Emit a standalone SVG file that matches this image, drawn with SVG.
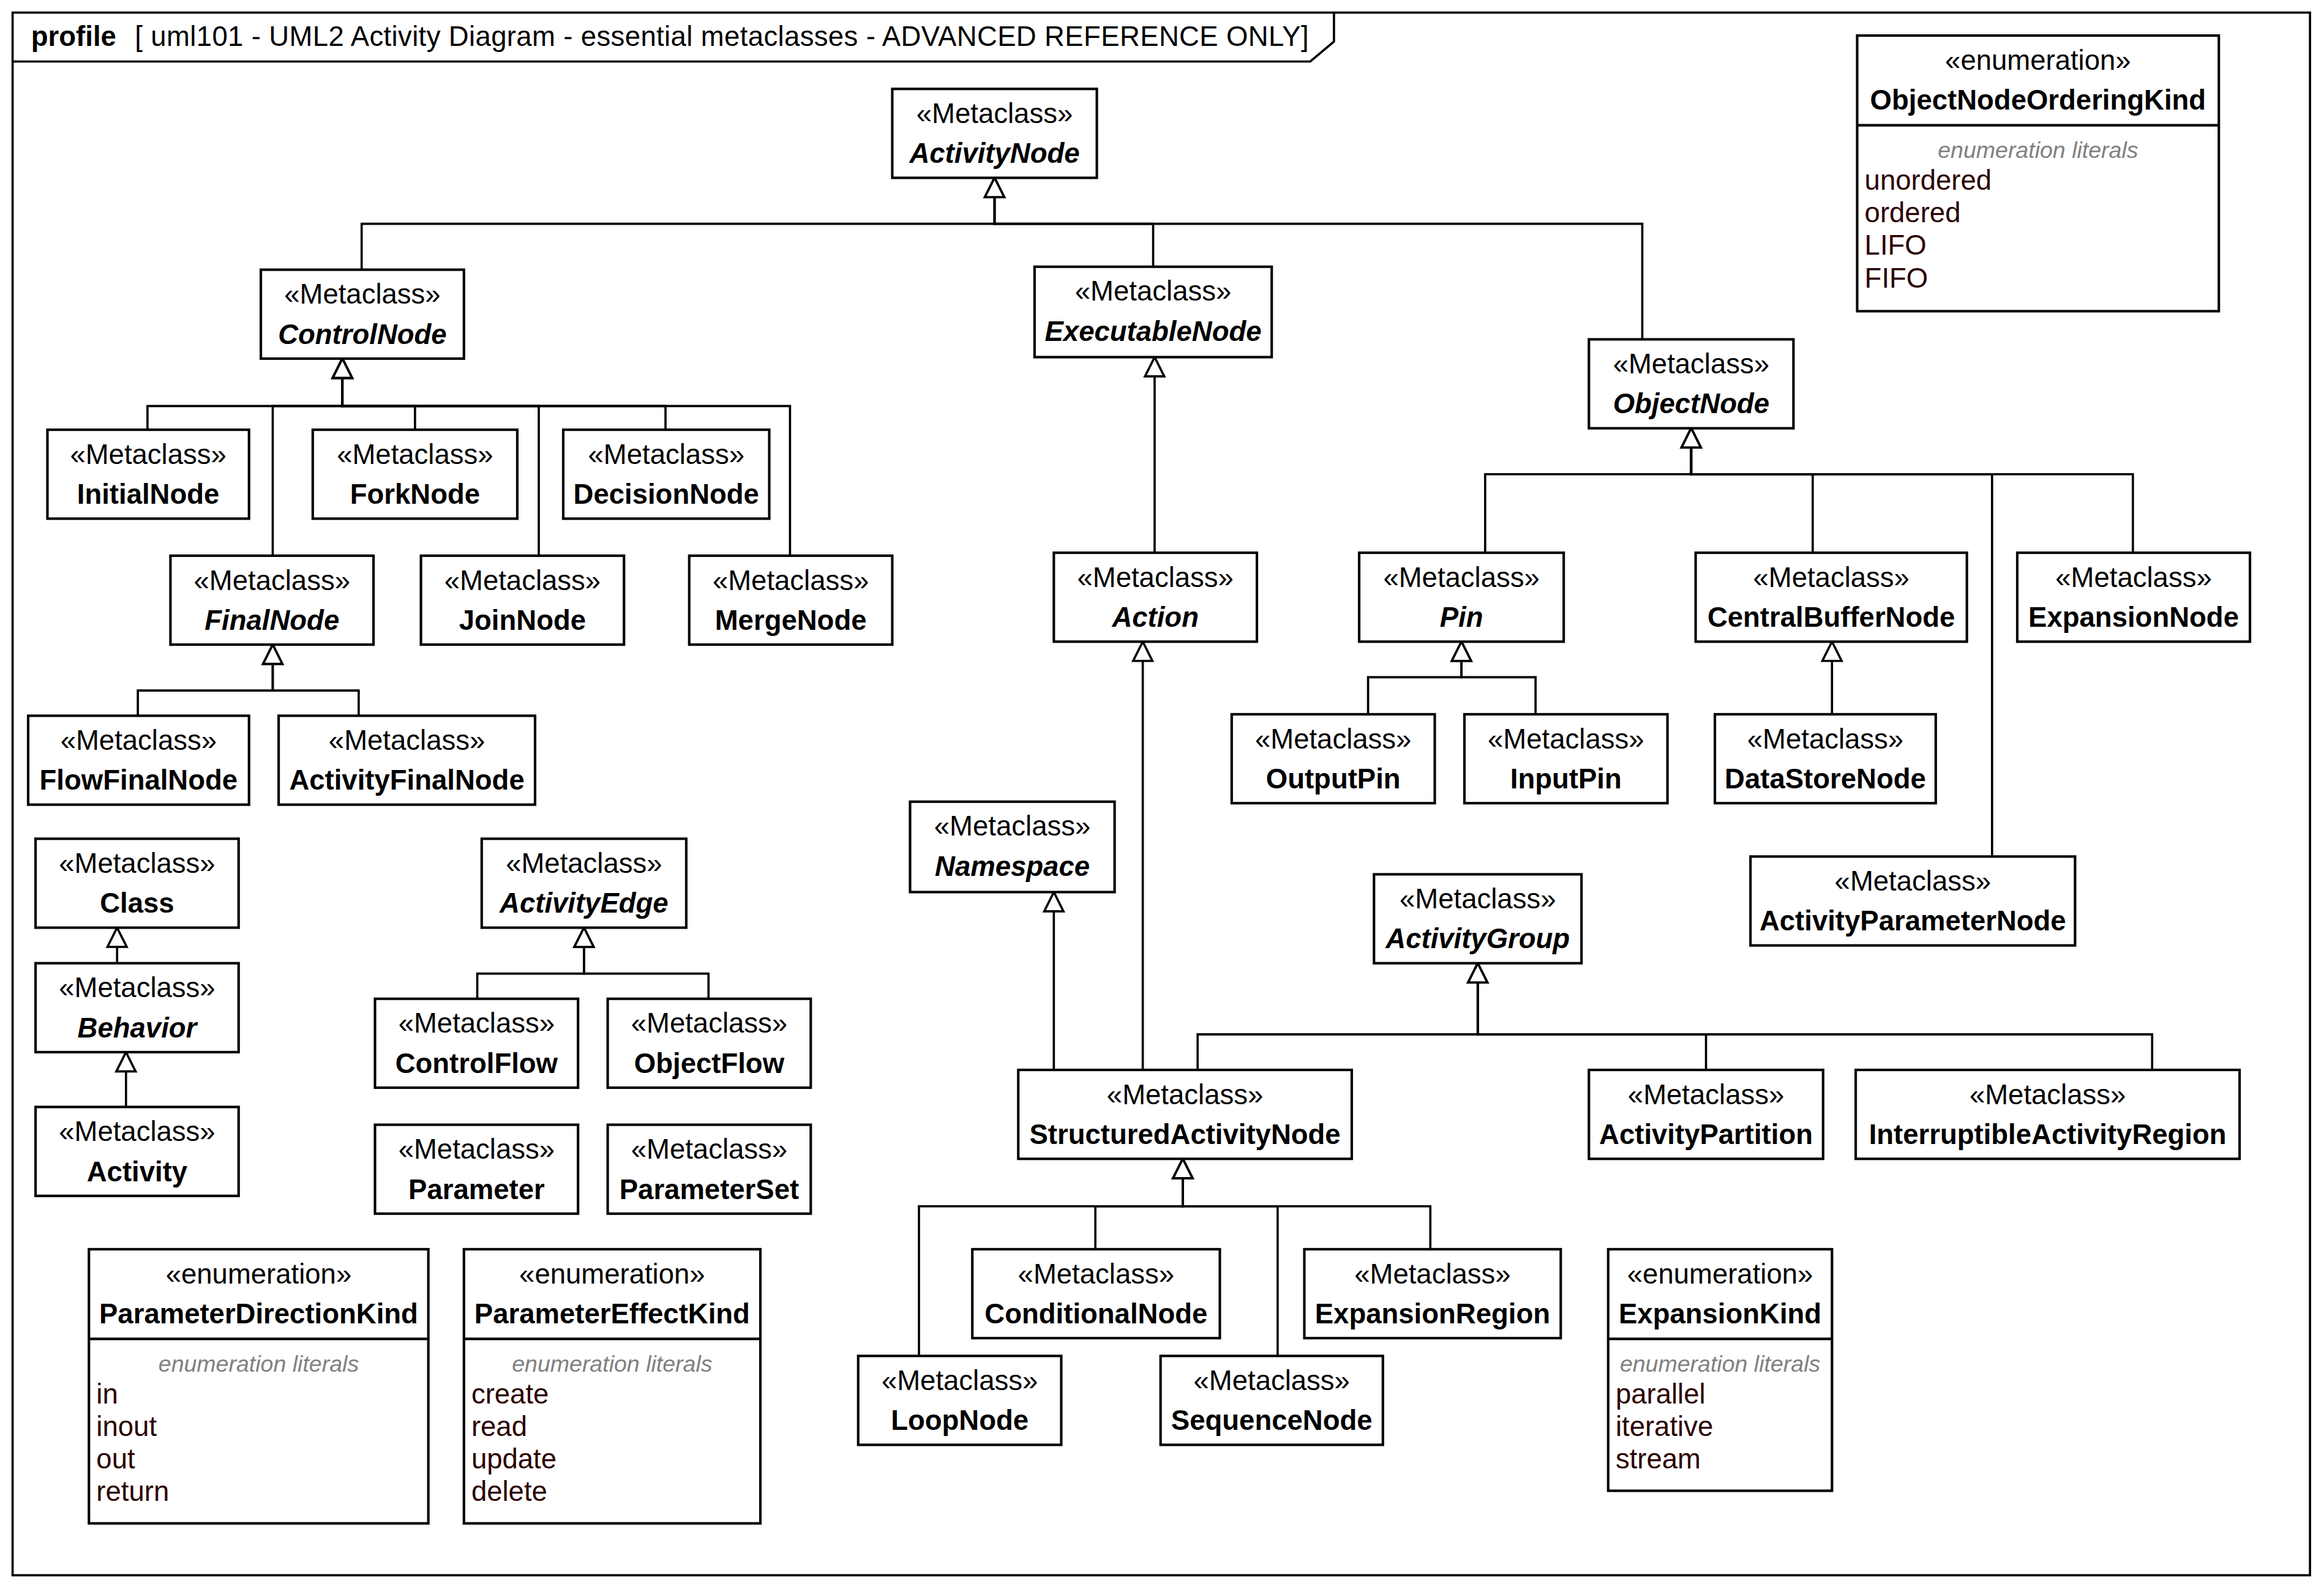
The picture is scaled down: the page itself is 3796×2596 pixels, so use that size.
<svg xmlns="http://www.w3.org/2000/svg" width="3796" height="2596" viewBox="0 0 3796 2596">
<style>
text{font-family:"Liberation Sans",Arial,Helvetica,sans-serif;font-size:18.8px;fill:#000}
.box{fill:#fff;stroke:#000;stroke-width:1.7}
.frame{fill:#fff;stroke:#000;stroke-width:1.5}
.st{text-anchor:middle}
.nm{text-anchor:middle;font-weight:bold}
.ab{font-style:italic}
.lbl{text-anchor:middle;font-style:italic;font-size:15.5px;fill:#808080}
.lit{fill:#2b0000}
.edge{fill:none;stroke:#000;stroke-width:1.5;marker-end:url(#gen)}
</style>
<defs>
<marker id="gen" viewBox="-14 -8 15 16" refX="0" refY="0" markerWidth="15" markerHeight="16" orient="auto" markerUnits="userSpaceOnUse">
<path d="M0,0 L-13,-6.5 L-13,6.5 Z" fill="#fff" stroke="#000" stroke-width="1.5" stroke-linejoin="miter"/>
</marker>
</defs>
<rect width="3796" height="2596" fill="#fff"/>
<g transform="scale(2.421)">
<g id="frame">
<rect class="frame" x="8.5" y="8.5" width="1550" height="1054.5"/>
<path d="M8.5,41.5 H884 L900,28 V8.5" fill="none" stroke="#000" stroke-width="1.5"/>
<text x="21" y="31" font-weight="bold">profile</text>
<text x="91" y="31" textLength="792" lengthAdjust="spacing">[ uml101 - UML2 Activity Diagram - essential metaclasses - ADVANCED REFERENCE ONLY]</text>
</g>
<g id="connectors">
<path class="edge" d="M244,182 V151 H671 V120"/>
<path class="edge" d="M778,180 V151 H671 V120"/>
<path class="edge" d="M1108,229 V151 H671 V120"/>
<path class="edge" d="M99.5,290 V274 H231 V242"/>
<path class="edge" d="M184,375 V274 H231 V242"/>
<path class="edge" d="M280,290 V274 H231 V242"/>
<path class="edge" d="M363.5,375 V274 H231 V242"/>
<path class="edge" d="M449,290 V274 H231 V242"/>
<path class="edge" d="M533,375 V274 H231 V242"/>
<path class="edge" d="M93,483 V466 H184 V435"/>
<path class="edge" d="M242,483 V466 H184 V435"/>
<path class="edge" d="M779,373 V241"/>
<path class="edge" d="M771,722 V433"/>
<path class="edge" d="M711,722 V602"/>
<path class="edge" d="M1002,373 V320 H1141 V289"/>
<path class="edge" d="M1223,373 V320 H1141 V289"/>
<path class="edge" d="M1344,578 V320 H1141 V289"/>
<path class="edge" d="M1439,373 V320 H1141 V289"/>
<path class="edge" d="M923,482 V457 H986 V433"/>
<path class="edge" d="M1036,482 V457 H986 V433"/>
<path class="edge" d="M1236,482 V433"/>
<path class="edge" d="M79,650 V626"/>
<path class="edge" d="M85,747 V710"/>
<path class="edge" d="M322,674 V657 H394 V626"/>
<path class="edge" d="M478,674 V657 H394 V626"/>
<path class="edge" d="M808,722 V698 H997 V650"/>
<path class="edge" d="M1151,722 V698 H997 V650"/>
<path class="edge" d="M1452,722 V698 H997 V650"/>
<path class="edge" d="M620,915 V814 H798 V782"/>
<path class="edge" d="M739,843 V814 H798 V782"/>
<path class="edge" d="M862,915 V814 H798 V782"/>
<path class="edge" d="M965,843 V814 H798 V782"/>
</g>
<g id="ActivityNode"><rect class="box" x="602" y="60" width="138" height="60"/><text class="st" x="671" y="83">«Metaclass»</text><text class="nm ab" x="671" y="110">ActivityNode</text></g>
<g id="ControlNode"><rect class="box" x="176" y="182" width="137" height="60"/><text class="st" x="244.5" y="205">«Metaclass»</text><text class="nm ab" x="244.5" y="232">ControlNode</text></g>
<g id="ExecutableNode"><rect class="box" x="698" y="180" width="160" height="61"/><text class="st" x="778" y="203">«Metaclass»</text><text class="nm ab" x="778" y="230">ExecutableNode</text></g>
<g id="ObjectNode"><rect class="box" x="1072" y="229" width="138" height="60"/><text class="st" x="1141" y="252">«Metaclass»</text><text class="nm ab" x="1141" y="279">ObjectNode</text></g>
<g id="InitialNode"><rect class="box" x="32" y="290" width="136" height="60"/><text class="st" x="100" y="313">«Metaclass»</text><text class="nm" x="100" y="340">InitialNode</text></g>
<g id="ForkNode"><rect class="box" x="211" y="290" width="138" height="60"/><text class="st" x="280" y="313">«Metaclass»</text><text class="nm" x="280" y="340">ForkNode</text></g>
<g id="DecisionNode"><rect class="box" x="380" y="290" width="139" height="60"/><text class="st" x="449.5" y="313">«Metaclass»</text><text class="nm" x="449.5" y="340">DecisionNode</text></g>
<g id="FinalNode"><rect class="box" x="115" y="375" width="137" height="60"/><text class="st" x="183.5" y="398">«Metaclass»</text><text class="nm ab" x="183.5" y="425">FinalNode</text></g>
<g id="JoinNode"><rect class="box" x="284" y="375" width="137" height="60"/><text class="st" x="352.5" y="398">«Metaclass»</text><text class="nm" x="352.5" y="425">JoinNode</text></g>
<g id="MergeNode"><rect class="box" x="465" y="375" width="137" height="60"/><text class="st" x="533.5" y="398">«Metaclass»</text><text class="nm" x="533.5" y="425">MergeNode</text></g>
<g id="Action"><rect class="box" x="711" y="373" width="137" height="60"/><text class="st" x="779.5" y="396">«Metaclass»</text><text class="nm ab" x="779.5" y="423">Action</text></g>
<g id="Pin"><rect class="box" x="917" y="373" width="138" height="60"/><text class="st" x="986" y="396">«Metaclass»</text><text class="nm ab" x="986" y="423">Pin</text></g>
<g id="CentralBufferNode"><rect class="box" x="1144" y="373" width="183" height="60"/><text class="st" x="1235.5" y="396">«Metaclass»</text><text class="nm" x="1235.5" y="423">CentralBufferNode</text></g>
<g id="ExpansionNode"><rect class="box" x="1361" y="373" width="157" height="60"/><text class="st" x="1439.5" y="396">«Metaclass»</text><text class="nm" x="1439.5" y="423">ExpansionNode</text></g>
<g id="FlowFinalNode"><rect class="box" x="19" y="483" width="149" height="60"/><text class="st" x="93.5" y="506">«Metaclass»</text><text class="nm" x="93.5" y="533">FlowFinalNode</text></g>
<g id="ActivityFinalNode"><rect class="box" x="188" y="483" width="173" height="60"/><text class="st" x="274.5" y="506">«Metaclass»</text><text class="nm" x="274.5" y="533">ActivityFinalNode</text></g>
<g id="OutputPin"><rect class="box" x="831" y="482" width="137" height="60"/><text class="st" x="899.5" y="505">«Metaclass»</text><text class="nm" x="899.5" y="532">OutputPin</text></g>
<g id="InputPin"><rect class="box" x="988" y="482" width="137" height="60"/><text class="st" x="1056.5" y="505">«Metaclass»</text><text class="nm" x="1056.5" y="532">InputPin</text></g>
<g id="DataStoreNode"><rect class="box" x="1157" y="482" width="149" height="60"/><text class="st" x="1231.5" y="505">«Metaclass»</text><text class="nm" x="1231.5" y="532">DataStoreNode</text></g>
<g id="Class"><rect class="box" x="24" y="566" width="137" height="60"/><text class="st" x="92.5" y="589">«Metaclass»</text><text class="nm" x="92.5" y="616">Class</text></g>
<g id="Behavior"><rect class="box" x="24" y="650" width="137" height="60"/><text class="st" x="92.5" y="673">«Metaclass»</text><text class="nm ab" x="92.5" y="700">Behavior</text></g>
<g id="Activity"><rect class="box" x="24" y="747" width="137" height="60"/><text class="st" x="92.5" y="770">«Metaclass»</text><text class="nm" x="92.5" y="797">Activity</text></g>
<g id="ActivityEdge"><rect class="box" x="325" y="566" width="138" height="60"/><text class="st" x="394" y="589">«Metaclass»</text><text class="nm ab" x="394" y="616">ActivityEdge</text></g>
<g id="ControlFlow"><rect class="box" x="253" y="674" width="137" height="60"/><text class="st" x="321.5" y="697">«Metaclass»</text><text class="nm" x="321.5" y="724">ControlFlow</text></g>
<g id="ObjectFlow"><rect class="box" x="410" y="674" width="137" height="60"/><text class="st" x="478.5" y="697">«Metaclass»</text><text class="nm" x="478.5" y="724">ObjectFlow</text></g>
<g id="Parameter"><rect class="box" x="253" y="759" width="137" height="60"/><text class="st" x="321.5" y="782">«Metaclass»</text><text class="nm" x="321.5" y="809">Parameter</text></g>
<g id="ParameterSet"><rect class="box" x="410" y="759" width="137" height="60"/><text class="st" x="478.5" y="782">«Metaclass»</text><text class="nm" x="478.5" y="809">ParameterSet</text></g>
<g id="Namespace"><rect class="box" x="614" y="541" width="138" height="61"/><text class="st" x="683" y="564">«Metaclass»</text><text class="nm ab" x="683" y="591">Namespace</text></g>
<g id="ActivityGroup"><rect class="box" x="927" y="590" width="140" height="60"/><text class="st" x="997" y="613">«Metaclass»</text><text class="nm ab" x="997" y="640">ActivityGroup</text></g>
<g id="ActivityParameterNode"><rect class="box" x="1181" y="578" width="219" height="60"/><text class="st" x="1290.5" y="601">«Metaclass»</text><text class="nm" x="1290.5" y="628">ActivityParameterNode</text></g>
<g id="StructuredActivityNode"><rect class="box" x="687" y="722" width="225" height="60"/><text class="st" x="799.5" y="745">«Metaclass»</text><text class="nm" x="799.5" y="772">StructuredActivityNode</text></g>
<g id="ActivityPartition"><rect class="box" x="1072" y="722" width="158" height="60"/><text class="st" x="1151" y="745">«Metaclass»</text><text class="nm" x="1151" y="772">ActivityPartition</text></g>
<g id="InterruptibleActivityRegion"><rect class="box" x="1252" y="722" width="259" height="60"/><text class="st" x="1381.5" y="745">«Metaclass»</text><text class="nm" x="1381.5" y="772">InterruptibleActivityRegion</text></g>
<g id="ConditionalNode"><rect class="box" x="656" y="843" width="167" height="60"/><text class="st" x="739.5" y="866">«Metaclass»</text><text class="nm" x="739.5" y="893">ConditionalNode</text></g>
<g id="ExpansionRegion"><rect class="box" x="880" y="843" width="173" height="60"/><text class="st" x="966.5" y="866">«Metaclass»</text><text class="nm" x="966.5" y="893">ExpansionRegion</text></g>
<g id="LoopNode"><rect class="box" x="579" y="915" width="137" height="60"/><text class="st" x="647.5" y="938">«Metaclass»</text><text class="nm" x="647.5" y="965">LoopNode</text></g>
<g id="SequenceNode"><rect class="box" x="783" y="915" width="150" height="60"/><text class="st" x="858" y="938">«Metaclass»</text><text class="nm" x="858" y="965">SequenceNode</text></g>
<g id="ObjectNodeOrderingKind"><rect class="box" x="1253" y="24" width="244" height="186"/><path d="M1253,84.5 H1497" stroke="#000" stroke-width="1.7"/><text class="st" x="1375" y="47">«enumeration»</text><text class="nm" x="1375" y="74">ObjectNodeOrderingKind</text><text class="lbl" x="1375" y="106.5">enumeration literals</text><text class="lit" x="1258" y="128">unordered</text><text class="lit" x="1258" y="150">ordered</text><text class="lit" x="1258" y="172">LIFO</text><text class="lit" x="1258" y="194">FIFO</text></g>
<g id="ParameterDirectionKind"><rect class="box" x="60" y="843" width="229" height="185"/><path d="M60,903.5 H289" stroke="#000" stroke-width="1.7"/><text class="st" x="174.5" y="866">«enumeration»</text><text class="nm" x="174.5" y="893">ParameterDirectionKind</text><text class="lbl" x="174.5" y="925.5">enumeration literals</text><text class="lit" x="65" y="947">in</text><text class="lit" x="65" y="969">inout</text><text class="lit" x="65" y="991">out</text><text class="lit" x="65" y="1013">return</text></g>
<g id="ParameterEffectKind"><rect class="box" x="313" y="843" width="200" height="185"/><path d="M313,903.5 H513" stroke="#000" stroke-width="1.7"/><text class="st" x="413" y="866">«enumeration»</text><text class="nm" x="413" y="893">ParameterEffectKind</text><text class="lbl" x="413" y="925.5">enumeration literals</text><text class="lit" x="318" y="947">create</text><text class="lit" x="318" y="969">read</text><text class="lit" x="318" y="991">update</text><text class="lit" x="318" y="1013">delete</text></g>
<g id="ExpansionKind"><rect class="box" x="1085" y="843" width="151" height="163"/><path d="M1085,903.5 H1236" stroke="#000" stroke-width="1.7"/><text class="st" x="1160.5" y="866">«enumeration»</text><text class="nm" x="1160.5" y="893">ExpansionKind</text><text class="lbl" x="1160.5" y="925.5">enumeration literals</text><text class="lit" x="1090" y="947">parallel</text><text class="lit" x="1090" y="969">iterative</text><text class="lit" x="1090" y="991">stream</text></g>
</g>
</svg>
